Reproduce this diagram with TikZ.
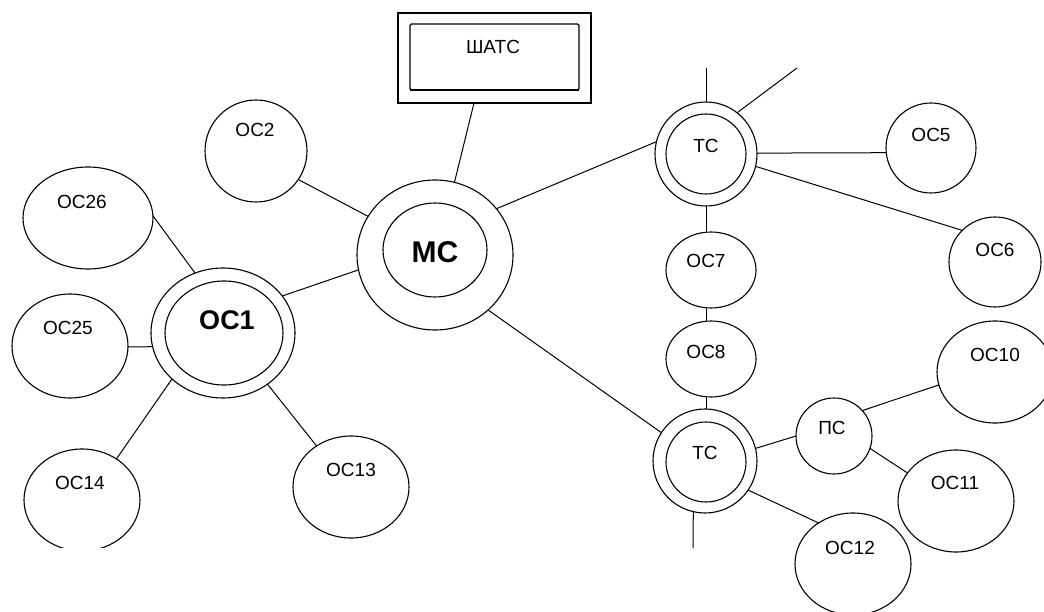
\documentclass[tikz,border=0pt]{standalone}
\usepackage{fontspec}
\setmainfont{Liberation Sans}
\usetikzlibrary{shapes.geometric,calc}
\begin{document}
\begin{tikzpicture}[x=1pt,y=-1pt,line width=1.1pt,
  oval/.style={draw,ellipse,inner sep=0pt,outer sep=0pt},
  box/.style={draw,rectangle,inner sep=0pt,outer sep=0pt},
  lbl/.style={font=\fontsize{19}{22}\selectfont,inner sep=0pt},
  big/.style={font=\fontsize{27}{30}\selectfont\bfseries,inner sep=0pt},
  link/.style={line width=1pt}]
\clip (0,0) rectangle (1044,612);
\fill[white] (0,0) rectangle (1044,612);

% central exchange and its switchboard
\node[box,minimum width=193pt,minimum height=90pt] (shatco) at (494.5,58) {};
\node[box,rounded corners=1.5pt,minimum width=169pt,minimum height=66pt] (shatci) at (494.5,57) {};
\draw[line width=1.8pt] (shatci.south west) -- (shatci.south east);
\node[lbl] (t-shatc) at (493,47) {ШАТС};

\node[oval,minimum width=156pt,minimum height=150pt] (mco) at (435,255) {};
\node[oval,minimum width=104pt,minimum height=94pt] (mci) at (435,250) {};
\node[big,font=\fontsize{30}{33}\selectfont\bfseries] (t-mc) at (435,252) {МС};

% left cluster
\node[oval,minimum width=102pt,minimum height=102pt] (oc2) at (256,151) {};
\node[lbl] (t-oc2) at (255,130) {ОС2};
\node[oval,minimum width=130pt,minimum height=102pt] (oc26) at (88,218) {};
\node[lbl] (t-oc26) at (82,202) {ОС26};
\node[oval,minimum width=116pt,minimum height=104pt] (oc25) at (70,346) {};
\node[lbl] (t-oc25) at (68,328) {ОС25};
\node[oval,minimum width=144pt,minimum height=130pt] (oc1o) at (223,333) {};
\node[oval,minimum width=118pt,minimum height=104pt] (oc1i) at (224,333) {};
\node[big] (t-oc1) at (227,320) {ОС1};
\begin{scope}
  \clip (0,0) rectangle (1044,547);
  \node[oval,minimum width=116pt,minimum height=102pt] (oc14) at (82,500) {};
\end{scope}
\node[lbl] (t-oc14) at (80,483) {ОС14};
\node[oval,minimum width=116pt,minimum height=102pt] (oc13) at (351,487) {};
\node[lbl] (t-oc13) at (351,470) {ОС13};

% upper transit exchange
\node[oval,minimum width=102pt,minimum height=104pt] (tc1o) at (706,154) {};
\node[oval,minimum width=80pt,minimum height=80pt] (tc1i) at (706,154) {};
\node[lbl] (t-tc1) at (706,146) {ТС};
\node[oval,minimum width=90pt,minimum height=90pt] (oc5) at (931,148) {};
\node[lbl] (t-oc5) at (931,135) {ОС5};
\node[oval,minimum width=92pt,minimum height=90pt] (oc6) at (995,262) {};
\node[lbl] (t-oc6) at (995,250) {ОС6};
\node[oval,minimum width=90pt,minimum height=76pt] (oc7) at (711,270) {};
\node[lbl] (t-oc7) at (706,261) {ОС7};
\node[oval,minimum width=90pt,minimum height=76pt] (oc8) at (711,359) {};
\node[lbl] (t-oc8) at (706,352) {ОС8};

% lower transit exchange
\node[oval,minimum width=104pt,minimum height=104pt] (tc2o) at (705,461) {};
\node[oval,minimum width=80pt,minimum height=80pt] (tc2i) at (706,462) {};
\node[lbl] (t-tc2) at (705,453) {ТС};
\node[oval,minimum width=76pt,minimum height=76pt] (pc) at (834,436) {};
\node[lbl] (t-pc) at (832,428) {ПС};
\node[oval,minimum width=116pt,minimum height=102pt] (oc10) at (995,372) {};
\node[lbl] (t-oc10) at (995,355) {ОС10};
\node[oval,minimum width=116pt,minimum height=102pt] (oc11) at (956,501) {};
\node[lbl] (t-oc11) at (955,483) {ОС11};
\node[oval,minimum width=116pt,minimum height=102pt] (oc12) at (853,564) {};
\node[lbl] (t-oc12) at (850,548) {ОС12};

% open line ends
\coordinate (tc1up) at (706,68);
\coordinate (tc1ne) at (797,68);
\coordinate (tc2dn) at (693,548);

% connections
\draw[link] ([xshift=-20.5pt]shatco.south) -- (mco.75);
\draw[link] (oc2.-34) -- (mco.150);
\draw[link] (oc1o.32) -- (mco.191.6);
\draw[link] (mco.37.6) -- (tc1o.166);
\draw[link] (mco.-46) -- (tc2o.147);
\draw[link] (oc26.2) -- (oc1o.115);
\draw[link] (oc25.-1) -- (oc1o.191);
\draw[link] (oc1o.222) -- (oc14.50);
\draw[link] (oc1o.-49) -- (oc13.130);
\draw[link] (tc1o.north) -- (tc1up);
\draw[link] (tc1o.53.6) -- (tc1ne);
\draw[link] (tc1o.1) -- (oc5.186);
\draw[link] (tc1o.-14.3) -- (oc6.136.7);
\draw[link] (tc1o.south) -- (tc1o.south |- oc7.north);
\draw[link] (oc8.north -| tc1o.south) -- (oc7.south -| tc1o.south);
\draw[link] (oc8.south -| tc1o.south) -- (tc2o.north -| tc1o.south);
\draw[link] (tc2o.257) -- (tc2dn);
\draw[link] (tc2o.14) -- (pc.180);
\draw[link] (pc.42) -- (oc10.193.6);
\draw[link] (pc.-19.7) -- (oc11.150.5);
\draw[link] (tc2o.-34) -- (oc12.130.5);
\end{tikzpicture}
\end{document}
